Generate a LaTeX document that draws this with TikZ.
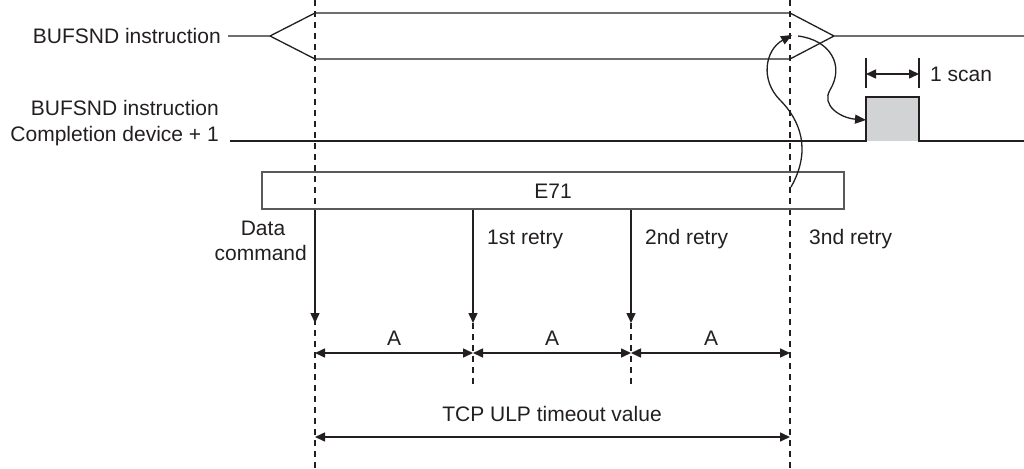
\documentclass[tikz,border=0pt]{standalone}
\usepackage{fontspec}
\setmainfont{Liberation Sans}
\usetikzlibrary{arrows.meta}
\definecolor{ink}{HTML}{231F20}
\definecolor{boxgray}{HTML}{58595B}
\definecolor{pulsegray}{HTML}{D1D3D4}
\begin{document}
\begin{tikzpicture}[x=1pt,y=-1pt,
  lbl/.style={font=\fontsize{21}{25.5}\selectfont, inner sep=0pt, text=ink},
  sig/.style={draw=ink, line width=1.3pt, line join=miter},
  guide/.style={draw=ink, line width=1.7pt, dash pattern=on 6pt off 5pt},
  tipline/.style={draw=ink, line width=1.5pt, -{Triangle[length=10pt,width=9pt]}},
  curvearrow/.style={draw=ink, line width=1.3pt, -{Triangle[length=11pt,width=9pt]}},
  dimline/.style={draw=ink, line width=1.5pt, {Triangle[length=10pt,width=9pt]}-{Triangle[length=10pt,width=9pt]}},
  tick/.style={draw=ink, line width=1.5pt},
]
\useasboundingbox (0,0) rectangle (1024,468);

% timing guides
\coordinate (g0t) at (315,0);   \coordinate (g0b) at (315,468);
\coordinate (g3t) at (790,0);   \coordinate (g3b) at (790,468);
\coordinate (a0) at (315,323);  \coordinate (a1) at (473,323);  \coordinate (a2) at (631,323);
\coordinate (g1b) at (473,387); \coordinate (g2b) at (631,387);
\draw[guide] (g0t) -- (g0b);
\draw[guide] (g3t) -- (g3b);
\draw[guide] (a1) -- (g1b);
\draw[guide] (a2) -- (g2b);

% BUFSND instruction signal
\node[lbl, anchor=base east] (lb1) at (221,43.5) {BUFSND instruction};
\coordinate (h0) at (228,36);
\coordinate (hL) at (270,36);
\coordinate (hTL) at (315,13); \coordinate (hTR) at (790,13);
\coordinate (hBL) at (315,59); \coordinate (hBR) at (790,59);
\coordinate (hR) at (834,36);
\coordinate (h1) at (1024,36);
\draw[sig] (h0) -- (hL) -- (hTL) -- (hTR) -- (hR) -- (h1);
\draw[sig] (hL) -- (hBL) -- (hBR) -- (hR);

% Completion device signal
\node[lbl, anchor=base east] (lb2a) at (219,115.5) {BUFSND instruction};
\node[lbl, anchor=base east] (lb2b) at (219,141) {Completion device + 1};
\coordinate (c0) at (230,141);
\coordinate (p0) at (866,141); \coordinate (p1) at (866,97);
\coordinate (p2) at (919,97);  \coordinate (p3) at (919,141);
\coordinate (c1) at (1024,141);
\fill[pulsegray] (p0) rectangle (p2);
\draw[sig] (c0) -- (p0) -- (p1) -- (p2) -- (p3) -- (c1);

% 1 scan
\coordinate (s0t) at (866,58); \coordinate (s0b) at (866,88);
\coordinate (s1t) at (919,58); \coordinate (s1b) at (919,88);
\coordinate (s0) at (866,74);  \coordinate (s1) at (919,74);
\draw[tick] (s0t) -- (s0b);
\draw[tick] (s1t) -- (s1b);
\draw[dimline] (s0) -- (s1);
\node[lbl, anchor=base west] (scan) at (930,81.5) {1 scan};

% E71 box
\node[draw=boxgray, line width=1.2pt, minimum width=582pt, minimum height=37pt,
      inner sep=0pt] (e71) at (553,190.5) {};
\node[lbl, anchor=base] (e71t) at (553,198) {E71};

% transmissions
\draw[tipline] (e71.south -| a0) -- (a0);
\draw[tipline] (e71.south -| a1) -- (a1);
\draw[tipline] (e71.south -| a2) -- (a2);
\node[lbl, anchor=base] (dc1) at (263,235.5) {Data};
\node[lbl, anchor=base east] (dc2) at (307,260.5) {command};
\node[lbl, anchor=base west] (r1) at (487,244) {1st retry};
\node[lbl, anchor=base west] (r2) at (645,244) {2nd retry};
\node[lbl, anchor=base west] (r3) at (809,244) {3nd retry};

% A intervals
\coordinate (d0) at (315,353); \coordinate (d1) at (473,353);
\coordinate (d2) at (631,353); \coordinate (d3) at (790,353);
\draw[dimline] (d0) -- (d1);
\draw[dimline] (d1) -- (d2);
\draw[dimline] (d2) -- (d3);
\node[lbl, anchor=base] (A1) at (394,345) {A};
\node[lbl, anchor=base] (A2) at (552,345) {A};
\node[lbl, anchor=base] (A3) at (711,345) {A};

% TCP ULP timeout
\coordinate (u0) at (315,437); \coordinate (u1) at (790,437);
\draw[dimline] (u0) -- (u1);
\node[lbl, anchor=base] (tcp) at (552,421) {TCP ULP timeout value};

% curved arrows
\coordinate (k0) at (791,187);
\coordinate (k1) at (792,35);
\draw[curvearrow] (k0) .. controls (812,150) and (800,120) .. (780,100)
                        .. controls (760,80) and (765,50) .. (k1);
\coordinate (m0) at (798,36);
\coordinate (m1) at (866,120);
\draw[curvearrow] (m0) .. controls (830,40) and (845,65) .. (830,90)
                        .. controls (821,105) and (840,118) .. (m1);
\end{tikzpicture}
\end{document}
